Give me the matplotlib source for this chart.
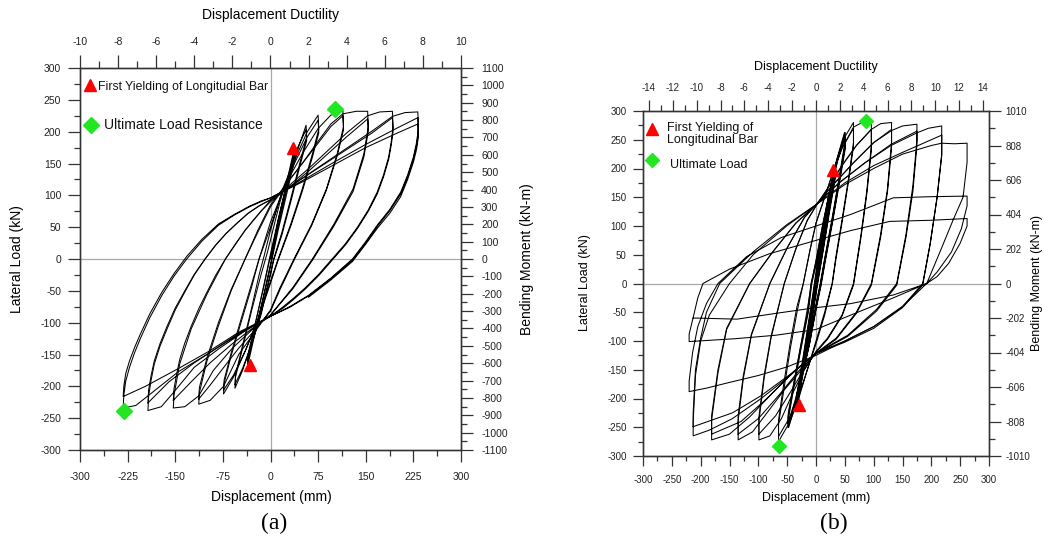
import matplotlib
matplotlib.use("Agg")
import matplotlib.pyplot as plt
from matplotlib.ticker import MultipleLocator

plt.rcParams['font.family'] = ['Liberation Sans', 'DejaVu Sans']
plt.rcParams['axes.unicode_minus'] = False

# ---------------- specimen (a): displacement (mm) vs lateral load (kN)
# one continuous record per displacement level, cycles joined end to end
a1_disp = [0, 12, 25, 37, 37, 25, 12, 0, -12, -24, -36, -36, -24, -12, 0, 12, 25, 37, 37, 25, 12, 0, -12, -24, -36]
a1_load = [0, 60, 118, 172, 160, 108, 52, -8, -62, -115, -168, -155, -103, -48, 8, 62, 115, 165, 152, 100, 45, -12, -65, -112, -160]

a2_disp = [-36, -35, -25, -12, 0, 15, 30, 44, 56, 57, 46, 32, 18, 5, 0, -15, -30, -44, -56, -55, -44, -30, -15, -5, 0, 15, 30, 44, 56, 57, 46, 32, 18, 5, 0, -15, -30, -44, -56]
a2_load = [-160, -148, -105, -50, 5, 70, 125, 175, 210, 192, 150, 95, 42, 0, -22, -85, -135, -175, -203, -185, -140, -82, -25, 10, 30, 90, 138, 178, 203, 186, 145, 90, 38, -2, -25, -88, -135, -172, -197]

a3_disp = [-56, -55, -45, -30, -18, -10, 0, 20, 40, 58, 75, 76, 66, 50, 32, 12, 0, -20, -40, -58, -74, -73, -62, -45, -30, -18, 0, 20, 40, 58, 75, 76, 66, 50, 32, 12, 0, -20, -40, -58, -74]
a3_load = [-197, -182, -140, -78, -25, 5, 45, 112, 160, 200, 226, 204, 165, 110, 55, 0, -35, -95, -145, -185, -212, -195, -152, -95, -45, 0, 50, 110, 155, 192, 218, 198, 160, 106, 52, -2, -38, -97, -145, -182, -206]

a4_disp = [-74, -73, -62, -45, -30, -18, 0, 25, 50, 75, 95, 114, 115, 105, 88, 65, 37, 15, 0, -25, -50, -74, -95, -113, -112, -100, -82, -62, -40, -20, 0, 25, 50, 75, 95, 114, 115, 105, 88, 65, 37, 15, 0, -25, -50, -75, -95, -113]
a4_load = [-206, -190, -148, -90, -40, 0, 58, 120, 165, 205, 226, 233, 208, 165, 110, 55, 0, -45, -80, -115, -150, -200, -222, -228, -210, -160, -105, -50, 0, 45, 85, 118, 150, 182, 208, 225, 203, 162, 108, 53, -2, -48, -82, -112, -140, -172, -198, -220]

a5_disp = [-113, -112, -100, -82, -62, -40, -20, 0, 25, 50, 75, 95, 114, 135, 153, 154, 147, 130, 100, 66, 35, 0, -30, -60, -90, -113, -135, -153, -152, -143, -125, -100, -71, -40, -15, 0, 30, 60, 90, 120, 153, 154, 147, 130, 100, 66, 35, 0, -30, -60, -95, -125, -153]
a5_load = [-220, -202, -155, -100, -48, 0, 42, 82, 118, 150, 185, 212, 228, 232, 232, 208, 165, 110, 55, 0, -45, -88, -112, -140, -175, -215, -232, -234, -214, -165, -110, -55, 0, 45, 75, 90, 113, 138, 165, 192, 220, 200, 160, 106, 52, -2, -47, -88, -110, -133, -163, -193, -222]

a6_disp = [-153,
           -152, -148, -143, -135, -125, -113, -100, -86, -71, -55, -40, -27, -15, 0, 30, 60, 90, 120, 153, 172, 192,
           193, 190, 186, 178, 168, 154, 137, 118, 97, 76, 55, 37, 20, 0, -40, -80, -120, -153, -172, -193,
           -192, -188, -183, -174, -163, -150, -135, -120, -103, -87, -70, -52, -35, -17, 0, 40, 80, 120, 160, 192,
           193, 190, 186, 178, 168, 154, 137, 118, 97, 76, 55, 37, 20, 0, -40, -80, -120, -160, -193]
a6_load = [-222,
           -204, -182, -158, -132, -106, -78, -52, -25, 0, 24, 45, 61, 75, 92, 116, 142, 170, 198, 225, 231, 232,
           207, 183, 160, 132, 105, 77, 50, 24, 0, -24, -45, -61, -75, -90, -113, -140, -170, -210, -232, -238,
           -216, -190, -165, -137, -110, -80, -52, -25, 0, 21, 40, 57, 72, 84, 93, 120, 146, 172, 198, 222,
           200, 178, 156, 129, 102, 75, 48, 22, -2, -26, -47, -63, -77, -90, -112, -137, -163, -193, -226]

a7_disp = [-193,
           -192, -188, -183, -174, -163, -150, -135, -120, -103, -87, -70, -52, -35, -17, 0, 40, 80, 120, 160, 192, 212, 232,
           233, 230, 225, 216, 205, 188, 168, 149, 129, 95, 60, 30, 0, -50, -97, -145, -193, -212, -232,
           -231, -228, -222, -214, -205, -190, -171, -152, -132, -108, -82, -57, -33, -15, 0, 50, 100, 150, 200, 232,
           233, 230, 225, 216, 205, 188, 168, 149, 129, 95, 60, 30, 0, -50, -97, -145, -197, -232,
           -231, -228, -222, -214, -205, -190, -171, -152, -132, -108, -82, -57, -33, -15, 0, 50, 100, 150, 200, 232,
           233, 230, 225, 216, 205, 188, 168, 149, 129, 95, 60]
a7_load = [-226,
           -206, -183, -160, -133, -106, -77, -50, -24, 0, 21, 40, 57, 72, 84, 93, 120, 147, 174, 201, 224, 230, 231,
           206, 183, 160, 132, 105, 78, 53, 26, 0, -30, -57, -75, -90, -117, -148, -177, -215, -230, -234,
           -214, -192, -170, -147, -125, -92, -57, -27, 0, 28, 53, 69, 82, 90, 96, 123, 152, 180, 206, 222,
           200, 178, 157, 129, 102, 76, 51, 24, -2, -31, -58, -76, -90, -115, -145, -172, -200, -216,
           -200, -180, -160, -139, -118, -86, -52, -23, 4, 31, 55, 70, 83, 91, 96, 121, 148, 175, 198, 212,
           192, 172, 152, 125, 98, 72, 48, 22, -4, -33, -60]

a_yield_disp = [36, -32]
a_yield_load = [174, -167]
a_ult_disp = [102, -230]
a_ult_load = [235, -238]

# ---------------- specimen (b)
b1_disp = [0, 10, 20, 20, 10, 0, -10, -20, -20, -10, 0, 10, 20, 20, 10, 0, -10, -20]
b1_load = [0, 72, 140, 128, 62, -5, -72, -140, -128, -62, 5, 70, 136, 125, 60, -8, -72, -136]

b2_disp = [-20, -20, -10, 0, 12, 22, 33, 33, 22, 12, 0, -12, -22, -33, -33, -22, -12, 0, 12, 22, 33, 33, 22, 12, 0, -12, -22, -33]
b2_load = [-136, -124, -58, 10, 85, 145, 205, 190, 125, 62, -10, -90, -150, -215, -200, -135, -70, 0, 78, 138, 198, 184, 120, 58, -14, -92, -148, -208]

b3_disp = [-33, -33, -22, -12, -5, 0, 10, 22, 35, 50, 50, 40, 28, 15, 8, 0, -12, -24, -36, -48, -48, -38, -26, -14, -8, 0, 12, 24, 37, 50, 50, 40, 28, 15, 8, 0, -12, -24, -36, -48]
b3_load = [-208, -194, -130, -65, -20, 15, 80, 150, 210, 262, 240, 180, 110, 40, 0, -40, -105, -160, -210, -250, -232, -175, -110, -50, 0, 35, 100, 160, 215, 255, 234, 175, 106, 36, -4, -42, -106, -158, -205, -243]

b4_disp = [-48, -48, -38, -26, -15, -8, 0, 12, 25, 38, 50, 65, 65, 56, 45, 35, 28, 15, 0, -15, -30, -45, -65, -65, -55, -44, -32, -22, -10, 0, 15, 30, 45, 65, 65, 56, 45, 35, 28, 15, 0, -15, -30, -45, -65]
b4_load = [-243, -225, -170, -105, -45, 0, 40, 105, 165, 215, 255, 280, 245, 180, 110, 50, 0, -50, -100, -150, -200, -240, -275, -245, -180, -110, -45, 0, 60, 105, 150, 195, 235, 270, 238, 175, 105, 45, -2, -55, -105, -150, -195, -232, -266]

b5_disp = [-65, -65, -56, -45, -33, -22, -10, 0, 15, 30, 45, 65, 80, 96, 96, 88, 78, 65, 45, 20, 0, -20, -40, -60, -80, -99, -99, -90, -78, -55, -35, -15, 0, 20, 45, 70, 96, 96, 88, 78, 65, 45, 20, 0, -20, -45, -70, -99]
b5_load = [-266, -238, -175, -105, -40, 0, 60, 105, 150, 195, 235, 272, 280, 281, 240, 160, 85, 0, -55, -95, -118, -150, -190, -235, -265, -272, -240, -165, -95, 0, 60, 110, 135, 165, 205, 240, 268, 232, 155, 80, -3, -57, -97, -120, -148, -190, -230, -262]

b6_disp = [-99, -99, -90, -78, -55, -35, -15, 0, 20, 45, 70, 96, 112, 131, 131, 124, 112, 96, 70, 35, 0, -25, -55, -85, -110, -135, -135, -126, -112, -80, -50, -20, 0, 30, 65, 100, 131, 131, 124, 112, 96, 70, 35, 0, -30, -65, -100, -135]
b6_load = [-262, -232, -160, -92, 0, 60, 110, 135, 165, 205, 240, 268, 278, 280, 246, 165, 85, 0, -50, -95, -121, -150, -185, -225, -258, -272, -238, -165, -90, 0, 62, 115, 137, 172, 210, 245, 268, 236, 160, 80, -3, -52, -97, -122, -152, -195, -235, -262]

b7_disp = [-135, -135, -126, -112, -80, -50, -20, 0, 30, 65, 100, 131, 150, 175, 175, 168, 156, 140, 105, 55, 0, -35, -75, -115, -150, -181, -181, -170, -155, -115, -75, -35, 0, 40, 85, 130, 175, 175, 168, 156, 140, 105, 55, 0, -40, -85, -130, -181]
b7_load = [-262, -230, -160, -88, 0, 62, 115, 137, 172, 210, 245, 266, 274, 277, 250, 170, 85, 0, -45, -90, -121, -150, -190, -232, -262, -272, -237, -155, -80, 0, 55, 105, 137, 175, 210, 242, 265, 240, 160, 80, -3, -48, -92, -122, -155, -200, -240, -262]

b8_disp = [-181, -181, -170, -155, -115, -75, -35, 0, 40, 85, 130, 175, 195, 218, 218, 210, 198, 185, 150, 100, 50, 0, -45, -95, -145, -185, -213, -213, -209, -200, -185, -150, -109, -51, 0, 50, 100, 150, 218, 218, 210, 198, 185, 150, 100, 50, 0, -45, -95, -145, -213]
b8_load = [-262, -230, -150, -78, 0, 55, 105, 137, 175, 210, 240, 262, 270, 274, 222, 150, 70, 0, -40, -75, -100, -121, -160, -200, -235, -255, -265, -240, -160, -100, -55, 0, 50, 100, 137, 175, 205, 228, 258, 225, 150, 68, -3, -42, -78, -102, -122, -158, -195, -225, -249]

b9_disp = [-213, -213, -209, -200, -190, -167, -109, -51, 0, 50, 100, 150, 200, 218, 240, 262, 262, 255, 238, 215, 192, 150, 100, 50, 0, -50, -100, -150, -190, -220, -220, -214, -205, -190, -170, -120, -60, 0, 60, 134, 200, 262, 262, 252, 235, 210, 192, 134, 60, 0, -70, -140, -220, -220, -212, -205, -196, -150, -80, 0, 60, 128, 200, 262, 262, 250, 230, 210, 192, 134, 60, 0, -70, -137, -213]
b9_load = [-249, -225, -150, -95, -50, 0, 55, 102, 137, 172, 200, 225, 240, 244, 243, 244, 211, 150, 111, 55, 0, -40, -75, -100, -125, -145, -160, -172, -182, -188, -170, -120, -75, -35, 0, 47, 80, 100, 120, 149, 151, 152, 135, 95, 55, 20, 0, -25, -55, -80, -90, -96, -101, -88, -55, -25, 0, 25, 52, 75, 92, 108, 110, 113, 100, 70, 35, 12, 0, -20, -35, -42, -52, -62, -60]

b_yield_disp = [30, -30]
b_yield_load = [197, -211]
b_ult_disp = [87, -65]
b_ult_load = [283, -282]

W, H = 1044, 538


def rect(left, top, right, bottom):
    return [left / W, 1 - bottom / H, (right - left) / W, (bottom - top) / H]


def ftext(fig, x, y, s, **kw):
    fig.text(x / W, 1 - y / H, s, ha='center', va='center', **kw)


def style(a, major, minor, pad, size):
    a.tick_params(which='both', direction='out', width=0.9, color='#333333',
                  labelsize=size, labelcolor='#222222', pad=pad)
    a.tick_params(which='major', length=major)
    a.tick_params(which='minor', length=minor)
    for s in a.spines.values():
        s.set_linewidth(0.9)
        s.set_color('#333333')


def panel(fig, box, blocks, xstep, mu_lim, mu_step, mom_lim, mom_step, lw):
    ax = fig.add_axes(rect(*box))
    ax.set_xlim(-300, 300)
    ax.set_ylim(-300, 300)
    ax.axhline(0, color='#a8a8a8', lw=0.9, zorder=1)
    ax.axvline(0, color='#a8a8a8', lw=0.9, zorder=1)
    for d, p in blocks:
        ax.plot(d, p, color='black', lw=lw, zorder=2)
    ax.xaxis.set_major_locator(MultipleLocator(xstep))
    ax.xaxis.set_minor_locator(MultipleLocator(xstep / 2))
    ax.yaxis.set_major_locator(MultipleLocator(50))
    ax.yaxis.set_minor_locator(MultipleLocator(25))

    top = ax.twiny()
    top.set_xlim(-mu_lim, mu_lim)
    top.xaxis.set_major_locator(MultipleLocator(mu_step))
    top.xaxis.set_minor_locator(MultipleLocator(mu_step / 2))

    right = ax.twinx()
    right.set_ylim(-mom_lim, mom_lim)
    right.yaxis.set_major_locator(MultipleLocator(mom_step))
    right.yaxis.set_minor_locator(MultipleLocator(mom_step / 2))
    return ax, top, right


fig = plt.figure(figsize=(W / 100, H / 100), dpi=100)

# ---- (a)
blocks_a = [(a1_disp, a1_load), (a2_disp, a2_load), (a3_disp, a3_load), (a4_disp, a4_load),
            (a5_disp, a5_load), (a6_disp, a6_load), (a7_disp, a7_load)]
ax, top, right = panel(fig, (80, 68, 461, 450), blocks_a, 75, 10, 2, 1100, 100, 0.75)
style(ax, 8.5, 4.3, 5, 7.5)
ax.tick_params(axis='x', pad=7.5)
style(top, 9.5, 5, 5.5, 7.5)
style(right, 8.5, 4.3, 6, 7.5)
ax.plot(a_yield_disp, a_yield_load, ls='none', marker='^', ms=9, color='#ff0000', zorder=4)
ax.plot(a_ult_disp, a_ult_load, ls='none', marker='D', ms=8, color='#22e622', zorder=4)
ax.plot([0.026], [0.955], transform=ax.transAxes, marker='^', ms=9, color='#ff0000')
ax.plot([0.029], [0.851], transform=ax.transAxes, marker='D', ms=8, color='#22e622')
ax.text(0.047, 0.9495, 'First Yielding of Longitudial Bar', transform=ax.transAxes,
        fontsize=8.8, va='center', color='#111111')
ax.text(0.063, 0.85, 'Ultimate Load Resistance', transform=ax.transAxes,
        fontsize=10, va='center', color='#111111')
ftext(fig, 271, 15, 'Displacement Ductility', fontsize=10)
ftext(fig, 271, 497, 'Displacement (mm)', fontsize=10)
ftext(fig, 17, 259, 'Lateral Load (kN)', fontsize=10, rotation=90)
ftext(fig, 527, 259, 'Bending Moment (kN-m)', fontsize=10, rotation=90)
ftext(fig, 274, 523, '(a)', fontsize=17, family='Liberation Serif')

# ---- (b)
blocks_b = [(b1_disp, b1_load), (b2_disp, b2_load), (b3_disp, b3_load), (b4_disp, b4_load),
            (b5_disp, b5_load), (b6_disp, b6_load), (b7_disp, b7_load), (b8_disp, b8_load),
            (b9_disp, b9_load)]
bx, btop, bright = panel(fig, (643, 111, 989, 456), blocks_b, 50, 14.5, 2, 1010, 202, 0.75)
style(bx, 7.5, 3.8, 4.3, 7)
bx.tick_params(axis='x', pad=6.5)
style(btop, 8, 4, 4.8, 7)
style(bright, 8.5, 4.3, 3.6, 7)
# the first small cycles overlap into a dense band near the origin
for d, p in blocks_b[:3]:
    bx.plot(d, p, color='black', lw=1.3, zorder=2)
bx.plot(b_yield_disp, b_yield_load, ls='none', marker='^', ms=8, color='#ff0000', zorder=4)
bx.plot(b_ult_disp, b_ult_load, ls='none', marker='D', ms=7, color='#22e622', zorder=4)
bx.plot([0.027], [0.947], transform=bx.transAxes, marker='^', ms=8, color='#ff0000')
bx.plot([0.026], [0.857], transform=bx.transAxes, marker='D', ms=7, color='#22e622')
bx.text(0.069, 0.934, 'First Yielding of\nLongitudinal Bar', transform=bx.transAxes,
        fontsize=9, va='center', linespacing=1.05, color='#111111')
bx.text(0.077, 0.843, 'Ultimate Load', transform=bx.transAxes,
        fontsize=9, va='center', color='#111111')
ftext(fig, 816, 67, 'Displacement Ductility', fontsize=9)
ftext(fig, 816, 498, 'Displacement (mm)', fontsize=9)
ftext(fig, 585, 283, 'Lateral Load (kN)', fontsize=9, rotation=90)
ftext(fig, 1037, 283, 'Bending Moment (kN-m)', fontsize=9, rotation=90)
ftext(fig, 834, 523, '(b)', fontsize=17, family='Liberation Serif')

fig.savefig('out.png', dpi=100)
